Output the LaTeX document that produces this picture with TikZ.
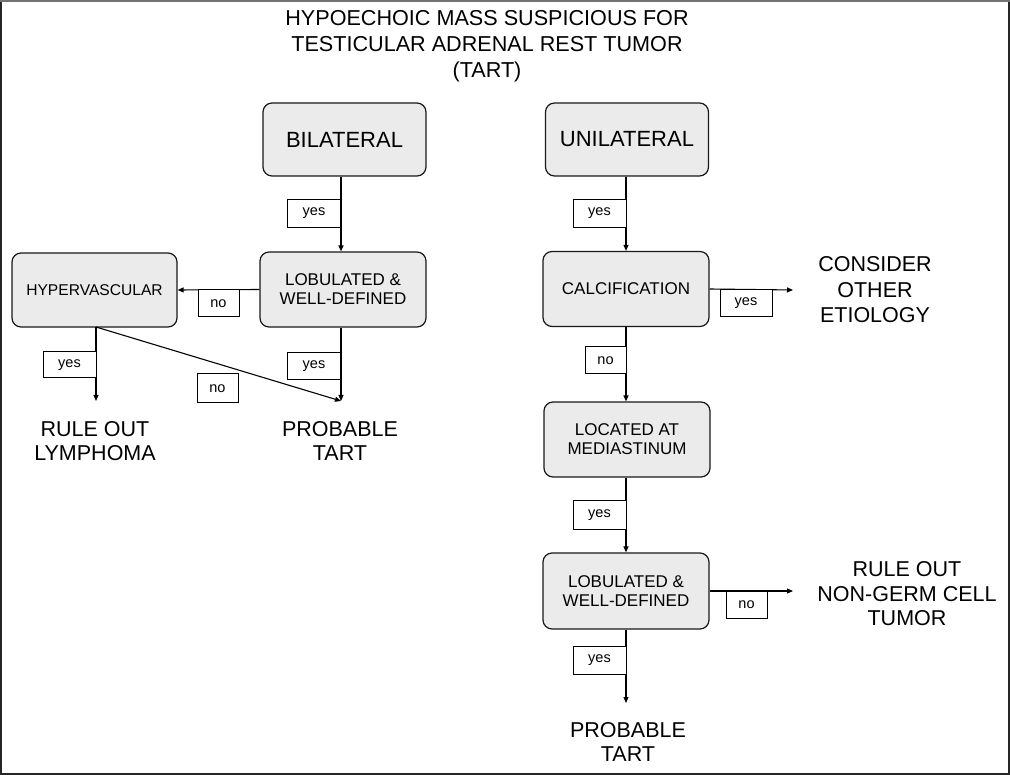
\documentclass[tikz,border=0pt]{standalone}
\usepackage{fontspec}
\setmainfont{Liberation Sans}
\usetikzlibrary{arrows.meta}
\newcommand{\fs}[1]{\fontsize{#1}{#1}\selectfont}
\tikzset{
  box/.style={draw=black!90, line width=1.2pt, rounded corners=9pt, fill=boxgray,
    minimum width=166pt, minimum height=75pt, align=center, inner sep=0pt, font=\fs{17}},
  bigbox/.style={box, minimum width=163pt, minimum height=73pt, font=\fs{22}},
  lbl/.style={draw=black, line width=1pt, fill=white, minimum width=53pt, minimum height=28pt,
    inner sep=0pt, font=\fs{14.5}},
  nolbl/.style={lbl, minimum width=41pt},
  outc/.style={align=center, font=\fs{21.5}, inner sep=0pt},
  conn/.style={draw=black, line width=1.1pt, -{Triangle[length=6pt,width=5pt]}},
  seg/.style={draw=black, line width=1.1pt}
}
\definecolor{boxgray}{HTML}{EBEBEB}
\begin{document}
\begin{tikzpicture}[x=1pt,y=-1pt]
\useasboundingbox (0,0) rectangle (1010,775);
\fill[white] (0,0) rectangle (1010,775);
\draw[color=black!85, line width=2pt] (1,0) -- (1,774) -- (1009,774) -- (1009,0);
\draw[color=black!55, line width=2pt] (0,1) -- (1010,1);

% title
\node[align=center, font=\fontsize{21.6}{26}\selectfont, inner sep=0pt] (title) at (487,46)
  {HYPOECHOIC MASS SUSPICIOUS FOR\\TESTICULAR ADRENAL REST TUMOR\\(TART)};

% coordinates for column lines
\coordinate (cl) at (341,0);
\coordinate (cr) at (626,0);

% boxes
\node[bigbox] (bil) at (344.5,139.5) {BILATERAL};
\node[bigbox] (uni) at (627,139.5) {UNILATERAL};
\node[box] (lob1) at (343,289.5) {LOBULATED \&\\[2pt]WELL-DEFINED};
\node[box, minimum width=165pt, minimum height=74pt, font=\fs{15.6}] (hyp) at (94.5,290) {HYPERVASCULAR};
\node[box] (calc) at (626,289) {CALCIFICATION};
\node[box] (med) at (627,439.5) {LOCATED AT\\[2pt]MEDIASTINUM};
\node[box, minimum height=76pt] (lob2) at (626,591) {LOBULATED \&\\[2pt]WELL-DEFINED};

% outcomes
\node[outc] (ruleL) at (95,441) {RULE OUT\\[3pt]LYMPHOMA};
\node[outc] (probL) at (340,441) {PROBABLE\\[3pt]TART};
\node[outc] (cons) at (875,290) {CONSIDER\\[4pt]OTHER\\[4pt]ETIOLOGY};
\node[outc] (rnon) at (907,594) {RULE OUT\\[3pt]NON-GERM CELL\\[3pt]TUMOR};
\node[outc] (probR) at (628,742) {PROBABLE\\[3pt]TART};

% connector end points
\coordinate (hypb) at (96,327);
\coordinate (ruleT) at (96,401);
\coordinate (probLT) at (341,401);
\coordinate (consL) at (793,290);
\coordinate (rnonL) at (793,591);
\coordinate (probRT) at (626,703);

% connectors
\draw[conn] (bil.south -| cl) -- (lob1.north -| cl);
\draw[conn] (lob1.west) -- (hyp.east);
\draw[conn] (hypb) -- (ruleT);
\draw[conn] (hypb) -- (probLT);
\draw[conn] (lob1.south -| cl) -- (probLT);
\draw[conn] (uni.south -| cr) -- (calc.north -| cr);
\draw[conn] (calc.east) -- (consL);
\draw[conn] (calc.south -| cr) -- (med.north -| cr);
\draw[conn] (med.south -| cr) -- (lob2.north -| cr);
\draw[conn] (lob2.east) -- (rnonL);
\draw[conn] (lob2.south -| cr) -- (probRT);

% labels
\node[lbl] (y1) at (314,213.5) {yes};
\node[nolbl, minimum height=27pt] (n1) at (218.5,303.5) {no};
\node[lbl, minimum height=26pt] (y2) at (69.5,365) {yes};
\node[nolbl, minimum height=29pt] (n2) at (217.5,388.5) {no};
\node[lbl, minimum height=27pt] (y3) at (314,366.5) {yes};
\node[lbl] (y4) at (599.5,213.5) {yes};
\node[lbl, minimum width=52pt, minimum height=27pt] (y5) at (746,303.5) {yes};
\node[nolbl, minimum height=27pt] (n3) at (605.5,360.5) {no};
\node[lbl] (y6) at (599.5,515) {yes};
\node[nolbl, minimum height=27pt] (n4) at (746.5,604.5) {no};
\node[lbl] (y7) at (599.5,660) {yes};
\end{tikzpicture}
\end{document}
